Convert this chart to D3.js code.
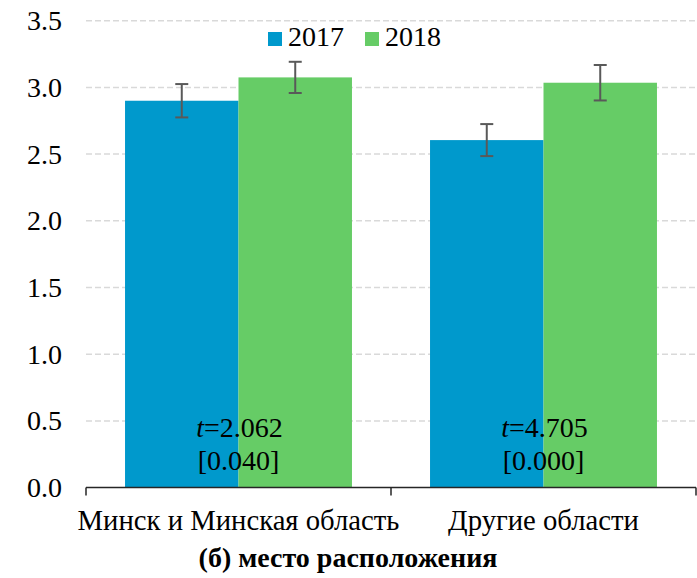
<!DOCTYPE html>
<html lang="ru">
<head>
<meta charset="UTF-8">
<title>место расположения</title>
<style>
    body { margin: 0; background: #fff; }
    svg text { font-family: "Liberation Serif", "DejaVu Serif", "Times New Roman", serif; }
    .grid line { stroke: #d9d9d9; stroke-width: 1.5; stroke-dasharray: 6 3; }
    .err { stroke: #595959; stroke-width: 2; }
</style>
</head>
<body>
<svg id="chart" width="697" height="578"></svg>
<script src="https://d3js.org/d3.v7.min.js"></script>
<script>
    const categories = ["Минск и Минская область", "Другие области"];
    const years = ["2017", "2018"];
    const values2017 = [2.90, 2.605];
    const values2018 = [3.075, 3.035];
    const err2017 = [0.125, 0.12];
    const err2018 = [0.117, 0.133];
    const tStats = ["2.062", "4.705"];
    const pValues = ["[0.040]", "[0.000]"];
    const yTicks = [0, 0.5, 1.0, 1.5, 2.0, 2.5, 3.0, 3.5];
    const colors = ["#0099cc", "#66cc66"];

    const svg = d3.select("#chart");
    const plotLeft = 86, plotRight = 696, plotTop = 20.7, plotBottom = 487.6;

    const x = d3.scaleBand().domain(categories).range([plotLeft, plotRight]).paddingInner(0).paddingOuter(0);
    const xs = d3.scaleBand().domain(years).range([0, x.bandwidth()]).paddingOuter(0.344).paddingInner(0);
    const y = d3.scaleLinear().domain([0, 3.5]).range([plotBottom, plotTop]);

    // gridlines
    svg.append("g").attr("class", "grid")
        .selectAll("line")
        .data(yTicks.filter(d => d > 0))
        .enter().append("line")
        .attr("x1", plotLeft).attr("x2", 697)
        .attr("y1", d => y(d)).attr("y2", d => y(d));

    // y tick labels
    svg.append("g")
        .selectAll("text")
        .data(yTicks)
        .enter().append("text")
        .attr("x", 62)
        .attr("y", d => y(d) + 9.5)
        .attr("text-anchor", "end")
        .style("font-size", "28px")
        .text(d => d.toFixed(1));

    const rows = categories.map((c, i) => ({
        cat: c,
        bars: [
            {year: years[0], v: values2017[i], e: err2017[i]},
            {year: years[1], v: values2018[i], e: err2018[i]}
        ]
    }));

    const groups = svg.append("g")
        .selectAll("g")
        .data(rows)
        .enter().append("g")
        .attr("transform", d => `translate(${x(d.cat)},0)`);

    groups.selectAll("rect")
        .data(d => d.bars)
        .enter().append("rect")
        .attr("x", d => xs(d.year))
        .attr("width", xs.bandwidth())
        .attr("y", d => y(d.v))
        .attr("height", d => y(0) - y(d.v))
        .attr("fill", (d, i) => colors[i]);

    const eb = groups.selectAll("g.err")
        .data(d => d.bars)
        .enter().append("g")
        .attr("class", "err")
        .attr("transform", d => `translate(${xs(d.year) + xs.bandwidth() / 2},0)`);
    eb.append("line").attr("x1", 0).attr("x2", 0)
        .attr("y1", d => y(d.v + d.e)).attr("y2", d => y(d.v - d.e));
    eb.append("line").attr("x1", -6.5).attr("x2", 6.5)
        .attr("y1", d => y(d.v + d.e)).attr("y2", d => y(d.v + d.e));
    eb.append("line").attr("x1", -6.5).attr("x2", 6.5)
        .attr("y1", d => y(d.v - d.e)).attr("y2", d => y(d.v - d.e));

    // t-statistics
    const tl = groups.append("text")
        .attr("x", x.bandwidth() / 2 + 1)
        .attr("y", 437)
        .attr("text-anchor", "middle")
        .style("font-size", "28px");
    tl.append("tspan").style("font-style", "italic").text("t");
    tl.append("tspan").text((d, i) => "=" + tStats[i]);
    groups.append("text")
        .attr("x", x.bandwidth() / 2)
        .attr("y", 470)
        .attr("text-anchor", "middle")
        .style("font-size", "28px")
        .text((d, i) => pValues[i]);

    // x axis
    const xAxis = svg.append("g");
    xAxis.append("line")
        .attr("x1", plotLeft).attr("x2", plotRight)
        .attr("y1", plotBottom).attr("y2", plotBottom)
        .attr("stroke", "#262626").attr("stroke-width", 1.5);
    xAxis.selectAll("line.tk")
        .data([plotLeft, x(categories[1]), plotRight])
        .enter().append("line")
        .attr("class", "tk")
        .attr("x1", d => d).attr("x2", d => d)
        .attr("y1", plotBottom).attr("y2", plotBottom + 8)
        .attr("stroke", "#262626").attr("stroke-width", 1.5);
    xAxis.selectAll("text")
        .data(categories)
        .enter().append("text")
        .attr("x", d => x(d) + x.bandwidth() / 2)
        .attr("y", 530)
        .attr("text-anchor", "middle")
        .style("font-size", "28.7px")
        .text(d => d);

    // legend
    const legend = svg.append("g");
    const legX = [268, 365];
    years.forEach((yr, i) => {
        legend.append("rect")
            .attr("x", legX[i]).attr("y", 32)
            .attr("width", 14).attr("height", 14)
            .attr("fill", colors[i]);
        legend.append("text")
            .attr("x", legX[i] + 20).attr("y", 46)
            .style("font-size", "28px")
            .text(yr);
    });

    // title
    svg.append("text")
        .attr("x", 348)
        .attr("y", 567)
        .attr("text-anchor", "middle")
        .style("font-size", "28px")
        .style("font-weight", "bold")
        .text("(б) место расположения");
</script>
</body>
</html>
